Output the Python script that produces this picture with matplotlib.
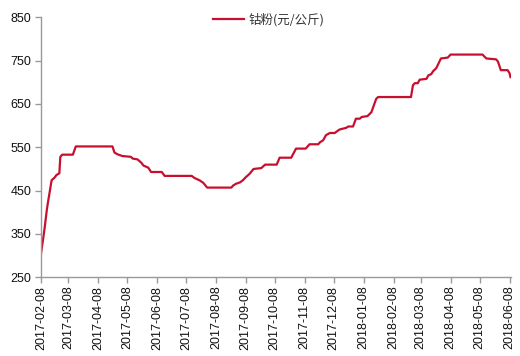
import matplotlib
matplotlib.use("Agg")
import matplotlib.pyplot as plt
import pandas as pd

dates = ["2017-02-08", "2017-02-10", "2017-02-12", "2017-02-14", "2017-02-15", "2017-02-17",
         "2017-02-19", "2017-02-22", "2017-02-24", "2017-02-27", "2017-02-28", "2017-03-02",
         "2017-03-13", "2017-03-16", "2017-04-23", "2017-04-25", "2017-04-28", "2017-05-03",
         "2017-05-12", "2017-05-14", "2017-05-19", "2017-05-23", "2017-05-25", "2017-05-30",
         "2017-06-02", "2017-06-13", "2017-06-16", "2017-07-14", "2017-07-17", "2017-07-22",
         "2017-07-26", "2017-07-30", "2017-08-24", "2017-08-26", "2017-08-29", "2017-09-02",
         "2017-09-05", "2017-09-08", "2017-09-12", "2017-09-16", "2017-09-24", "2017-09-28",
         "2017-10-10", "2017-10-13", "2017-10-25", "2017-10-30", "2017-11-09", "2017-11-13",
         "2017-11-22", "2017-11-24", "2017-11-27", "2017-11-30", "2017-12-04", "2017-12-09",
         "2017-12-14", "2017-12-21", "2017-12-23", "2017-12-28", "2017-12-31", "2018-01-04",
         "2018-01-06", "2018-01-12", "2018-01-16", "2018-01-21", "2018-01-23", "2018-02-26",
         "2018-02-28", "2018-03-02", "2018-03-05", "2018-03-07", "2018-03-14", "2018-03-16",
         "2018-03-19", "2018-03-21", "2018-03-24", "2018-03-29", "2018-04-05", "2018-04-08",
         "2018-05-11", "2018-05-15", "2018-05-25", "2018-05-27", "2018-05-30", "2018-06-06",
         "2018-06-08", "2018-06-09"]
values = [305, 335, 368, 405, 420, 447,
          474, 480, 486, 490, 528, 533,
          533, 552, 552, 538, 534, 530,
          528, 524, 522, 514, 508, 503,
          493, 493, 484, 484, 479, 474,
          468, 457, 457, 462, 466, 469,
          474, 481, 489, 500, 502, 510,
          510, 526, 526, 547, 547, 557,
          557, 562, 566, 578, 583, 583,
          591, 595, 598, 598, 616, 616,
          620, 622, 631, 662, 666, 666,
          693, 698, 698, 706, 708, 716,
          719, 726, 732, 755, 757, 764,
          764, 755, 753, 748, 728, 728,
          721, 712]
tick_dates = ["2017-02-08", "2017-03-08", "2017-04-08", "2017-05-08", "2017-06-08",
              "2017-07-08", "2017-08-08", "2017-09-08", "2017-10-08", "2017-11-08",
              "2017-12-08", "2018-01-08", "2018-02-08", "2018-03-08", "2018-04-08",
              "2018-05-08", "2018-06-08"]
y_ticks = [250, 350, 450, 550, 650, 750, 850]
series_label = "钴粉(元/公斤)"

plt.rcParams['font.family'] = ['Liberation Sans', 'DejaVu Sans']

fig = plt.figure(figsize=(5.2, 3.56), dpi=100)
ax = fig.add_axes([41/520, 1-277.3/356, (510.5-41)/520, (277.3-17.3)/356])

x = pd.to_datetime(dates)
line, = ax.plot(x, values, color='#C8102E', lw=1.6, label=series_label)

ax.set_ylim(250, 850)
ax.set_yticks(y_ticks)
ax.set_xlim(pd.Timestamp("2017-02-08"), pd.Timestamp("2018-06-09"))
tk = pd.to_datetime(tick_dates)
ax.set_xticks(tk)
ax.set_xticklabels(tick_dates, rotation=90)

for s in ['top', 'right']:
    ax.spines[s].set_visible(False)
for s in ['left', 'bottom']:
    ax.spines[s].set_color('#999999')
    ax.spines[s].set_linewidth(1.0)
ax.tick_params(axis='both', direction='out', length=4, width=1, color='#999999',
               labelsize=9, labelcolor='#111111')
ax.tick_params(axis='y', pad=3)
ax.tick_params(axis='x', pad=2)

leg = ax.legend(loc='upper left', bbox_to_anchor=((208-41)/469.5, 1.035), frameon=False,
                prop={'family': ['Noto Sans CJK SC', 'DejaVu Sans'], 'size': 9},
                handlelength=2.5, handletextpad=0.35, borderaxespad=0)
for t in leg.get_texts():
    t.set_color('#333333')

fig.savefig("out.png", dpi=100)
